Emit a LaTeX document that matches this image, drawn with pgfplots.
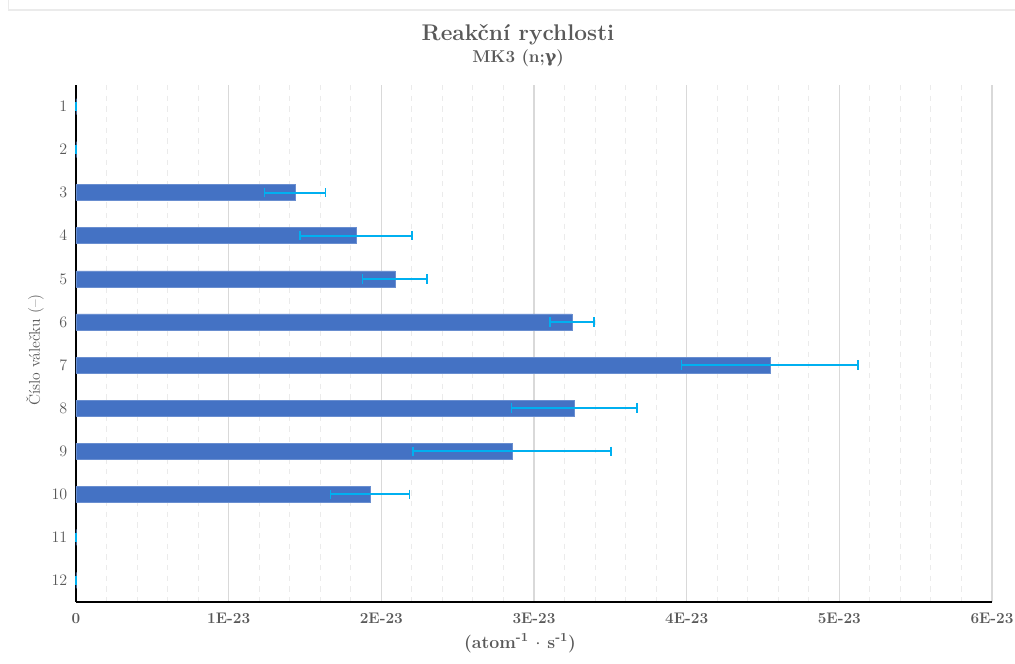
\documentclass[border=0pt]{standalone}
\usepackage{pgfplots}
\pgfplotsset{compat=1.18}
\usepackage{pgfplotstable}
\usepackage{fontspec}
\newfontfamily\gfont{DejaVu Serif}
\definecolor{txt}{HTML}{595959}
\definecolor{barc}{HTML}{4472C4}
\definecolor{errc}{HTML}{00B0F0}
\definecolor{gmaj}{HTML}{D9D9D9}
\definecolor{gmin}{HTML}{EBEBEB}
\pgfplotstableread{
y x err
1 0 0.001
2 0 0.001
3 1.434 0.200
4 1.834 0.367
5 2.089 0.212
6 3.248 0.145
7 4.545 0.578
8 3.263 0.410
9 2.855 0.648
10 1.925 0.259
11 0 0.001
12 0 0.001
}\datatab
\begin{document}
\begin{tikzpicture}[x=1pt,y=1pt]
\useasboundingbox (0,0) rectangle (761.25,498);
\draw[gmin, line width=1pt] (6.4,600) -- (6.4,490.5) -- (800,490.5);
\begin{axis}[
  at={(57pt,46.5pt)}, anchor=south west,
  scale only axis, width=687pt, height=387.75pt,
  xbar, bar width=12pt,
  y dir=reverse,
  xmin=0, xmax=6, ymin=0.5, ymax=12.5,
  ytick={1,...,12},
  xtick={0,1,2,3,4,5,6},
  xticklabels={0,1E-23,2E-23,3E-23,4E-23,5E-23,6E-23},
  minor x tick num=4,
  axis x line*=bottom, axis y line*=left,
  axis line style={black, line width=1pt, -},
  major tick length=0pt, minor tick length=0pt,
  xmajorgrids, xminorgrids,
  major grid style={gmaj, line width=0.8pt},
  minor grid style={gmin, line width=0.8pt, dash pattern=on 4pt off 4pt},
  ymajorgrids=false,
  tick label style={font=\bfseries\fontsize{11.5}{13}\selectfont, text=txt},
  xticklabel style={yshift=-5pt},
  yticklabel style={xshift=-3pt},
  clip=false,
]
\addplot[fill=barc, draw=barc!80!white, line width=0.5pt,
  error bars/.cd, x dir=both, x explicit,
  error bar style={errc, line width=1.5pt},
  error mark options={errc, line width=1.2pt, mark size=3.5pt, rotate=90}]
  table[x=x, y=y, x error=err] {\datatab};
\end{axis}
\node[text=txt, font=\bfseries\fontsize{17}{20}\selectfont] at (388.5,471.75) {Reakční rychlosti};
\node[text=txt, font=\bfseries\fontsize{12.8}{15}\selectfont] at (388.5,454.5) {MK3 (n;{\gfont\bfseries γ})};
\node[text=txt, font=\bfseries\fontsize{13.3}{15}\selectfont] at (390,15.75) {(atom\textsuperscript{-1} $\cdot$ s\textsuperscript{-1})};
\node[text=txt, font=\fontsize{11.7}{13}\selectfont, rotate=90] at (26.25,235.5) {Číslo válečku (–)};
\end{tikzpicture}
\end{document}
